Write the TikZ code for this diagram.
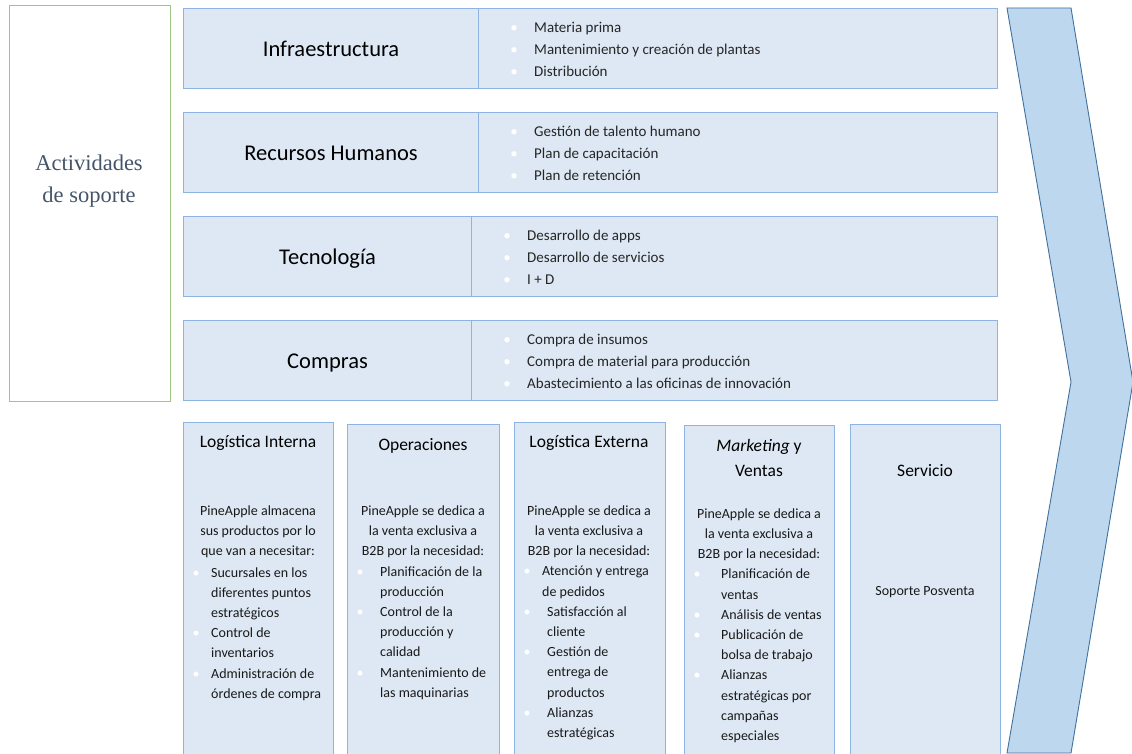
\documentclass[tikz,border=0pt]{standalone}
\usepackage{fontspec}
\setmainfont{Carlito}
\newfontfamily\serifa{Liberation Serif}
\usetikzlibrary{positioning}
\definecolor{cajafondo}{HTML}{DDE8F4}
\definecolor{cajaborde}{HTML}{8DB4E2}
\definecolor{flechafondo}{HTML}{BDD7EE}
\definecolor{flechaborde}{HTML}{41719C}
\definecolor{verde}{HTML}{9DC883}
\definecolor{pizarra}{HTML}{44546A}
% vineta blanca a la izquierda del texto
\newcommand{\vin}[1][20pt]{\llap{\makebox[0pt]{\textcolor{white}{\textbullet}}\hspace{#1}}}

\begin{document}
\begin{tikzpicture}[x=1pt,y=-1pt,
	caja/.style={draw=cajaborde,fill=cajafondo,line width=1.1pt,inner sep=0pt,anchor=north west},
	titsop/.style={font=\fontsize{22.5}{27}\selectfont,text height=19pt,text depth=3pt},
	lista/.style={anchor=west,align=left,inner sep=0pt,text=black!85,font=\fontsize{15}{22}\selectfont},
	titcol/.style={align=center,inner sep=0pt,font=\fontsize{17.5}{25}\selectfont},
	cuerpo/.style={align=center,inner sep=0pt,text=black!90,font=\fontsize{14}{20.2}\selectfont},
	items/.style={anchor=west,align=left,inner sep=0pt,text=black!90,font=\fontsize{14}{20.2}\selectfont}]
	\useasboundingbox (0,0) rectangle (1132,754);
	% flecha de fondo
	\draw[flechaborde,fill=flechafondo,line width=0.9pt,line join=miter] (1007,8) -- (1071,8) -- (1133,382) -- (1071,753) -- (1007,753) -- (1071,382) -- cycle;
	% actividades de soporte
	\node (soporte) at (9,5)[draw=verde,line width=1.3pt,anchor=north west,minimum width=161pt,minimum height=396pt] {};
	\node (actsop) at (89,181)[align=center,text=pizarra,font=\serifa\fontsize{22.5}{32}\selectfont] {Actividades\\de soporte};
	\node (infra) at (183,8)[caja,titsop,minimum width=295pt,minimum height=80pt] {Infraestructura};
	\node (infral) at (478,8)[caja,minimum width=519pt,minimum height=80pt] {};
	\node (rrhh) at (183,112)[caja,titsop,minimum width=295pt,minimum height=80pt] {Recursos Humanos};
	\node (rrhhl) at (478,112)[caja,minimum width=519pt,minimum height=80pt] {};
	\node (tec) at (183,216)[caja,titsop,minimum width=288pt,minimum height=80pt] {Tecnología};
	\node (tecl) at (471,216)[caja,minimum width=526pt,minimum height=80pt] {};
	\node (comp) at (183,320)[caja,titsop,minimum width=288pt,minimum height=80pt] {Compras};
	\node (compl) at (471,320)[caja,minimum width=526pt,minimum height=80pt] {};
	\node (infratx) at (534,49)[lista] {\vin Materia prima\\\vin Mantenimiento y creación de plantas\\\vin Distribución};
	\node (rrhhtx) at (534,153)[lista] {\vin Gestión de talento humano\\\vin Plan de capacitación\\\vin Plan de retención};
	\node (tectx) at (527,257)[lista] {\vin Desarrollo de apps\\\vin Desarrollo de servicios\\\vin I + D};
	\node (comptx) at (527,361)[lista] {\vin Compra de insumos\\\vin Compra de material para producción\\\vin Abastecimiento a las oficinas de innovación};
	% actividades primarias
	\node (logint) at (183,422)[caja,minimum width=150pt,minimum height=340pt] {};
	\node (oper) at (347,424)[caja,minimum width=152pt,minimum height=340pt] {};
	\node (logext) at (514,422)[caja,minimum width=151pt,minimum height=340pt] {};
	\node (mkt) at (684,425)[caja,minimum width=150pt,minimum height=340pt] {};
	\node (serv) at (850,424)[caja,minimum width=150pt,minimum height=340pt] {};
	\node (loginttit) at (258,443)[titcol] {Logística Interna};
	\node (logintin) at (258,532)[cuerpo] {PineApple almacena\\sus productos por lo\\que van a necesitar:};
	\node (logintit) at (211,634)[items] {\vin[15pt]Sucursales en los\\diferentes puntos\\estratégicos\\\vin[15pt]Control de\\inventarios\\\vin[15pt]Administración de\\órdenes de compra};
	\node (opertit) at (423,446)[titcol] {Operaciones};
	\node (operin) at (423,532)[cuerpo] {PineApple se dedica a\\la venta exclusiva a\\B2B por la necesidad:};
	\node (operit) at (380,633)[items] {\vin Planificación de la\\producción\\\vin Control de la\\producción y\\calidad\\\vin Mantenimiento de\\las maquinarias};
	\node (logexttit) at (589,443)[titcol] {Logística Externa};
	\node (logextin) at (589,532)[cuerpo] {PineApple se dedica a\\la venta exclusiva a\\B2B por la necesidad:};
	\node (logextit) at (542,653)[items] {\vin[15pt]Atención y entrega\\de pedidos\\\hspace*{5pt}\vin Satisfacción al\\\hspace*{5pt}cliente\\\hspace*{5pt}\vin Gestión de\\\hspace*{5pt}entrega de\\\hspace*{5pt}productos\\\hspace*{5pt}\vin Alianzas\\\hspace*{5pt}estratégicas};
	\node (mkttit) at (759,458)[titcol] {\textit{Marketing} y\\Ventas};
	\node (mktin) at (759,535)[cuerpo] {PineApple se dedica a\\la venta exclusiva a\\B2B por la necesidad:};
	\node (mktit) at (721,656)[items] {\vin[24pt]Planificación de\\ventas\\\vin[24pt]Análisis de ventas\\\vin[24pt]Publicación de\\bolsa de trabajo\\\vin[24pt]Alianzas\\estratégicas por\\campañas\\especiales};
	\node (servtit) at (925,471)[titcol] {Servicio};
	\node (servtx) at (925,592)[cuerpo] {Soporte Posventa};
\end{tikzpicture}
\end{document}
